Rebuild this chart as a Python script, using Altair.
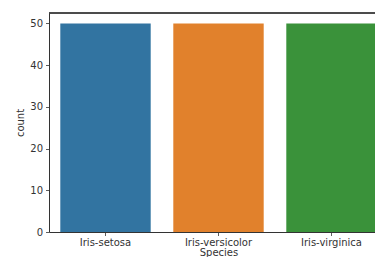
import altair as alt
import pandas as pd

species = ["Iris-setosa", "Iris-versicolor", "Iris-virginica"]
counts = [50, 50, 50]
colors = ["#3274a1", "#e1812c", "#3a923a"]
y_top = 52.5

df = pd.DataFrame({"Species": species, "count": counts})

font = "DejaVu Sans"
spine = "#333"

xscale = alt.Scale(domain=species, paddingInner=0.2, paddingOuter=0.1, range=[0, 339])
yscale = alt.Scale(domain=[0, y_top], nice=False, zero=True)

bars = alt.Chart(df).mark_bar().encode(
    x=alt.X("Species:N", sort=species, scale=xscale,
            axis=alt.Axis(labelAngle=0, title="Species", domain=True,
                          domainColor=spine, domainWidth=1,
                          ticks=True, tickSize=3.5, tickColor=spine, tickWidth=0.8,
                          labelPadding=2, titlePadding=0,
                          labelFont=font, labelFontSize=10, labelColor="#333",
                          titleFont=font, titleFontSize=10, titleFontWeight="normal",
                          titleColor="#333")),
    y=alt.Y("count:Q", scale=yscale,
            axis=alt.Axis(values=[0, 10, 20, 30, 40, 50], grid=False, domain=True,
                          domainColor=spine, domainWidth=1,
                          tickSize=3.5, tickColor=spine, tickWidth=0.8,
                          labelPadding=3, titlePadding=4,
                          labelFont=font, labelFontSize=10, labelColor="#333",
                          titleFont=font, titleFontSize=10, titleFontWeight="normal",
                          titleColor="#333")),
    color=alt.Color("Species:N", sort=species,
                    scale=alt.Scale(domain=species, range=colors), legend=None),
)

top_spine = alt.Chart(df).mark_rule(color=spine, strokeWidth=1).encode(
    y=alt.datum(y_top),
    x=alt.value(0),
    x2=alt.value(339),
)

chart = alt.layer(bars, top_spine).properties(
    width=326, height=219,
    autosize=alt.AutoSizeParams(type="none"),
    padding={"left": 41, "top": 5, "right": 0, "bottom": 25},
).configure_view(
    stroke=None
)

chart.save("out.html", embed_options={"renderer": "svg", "actions": False})
